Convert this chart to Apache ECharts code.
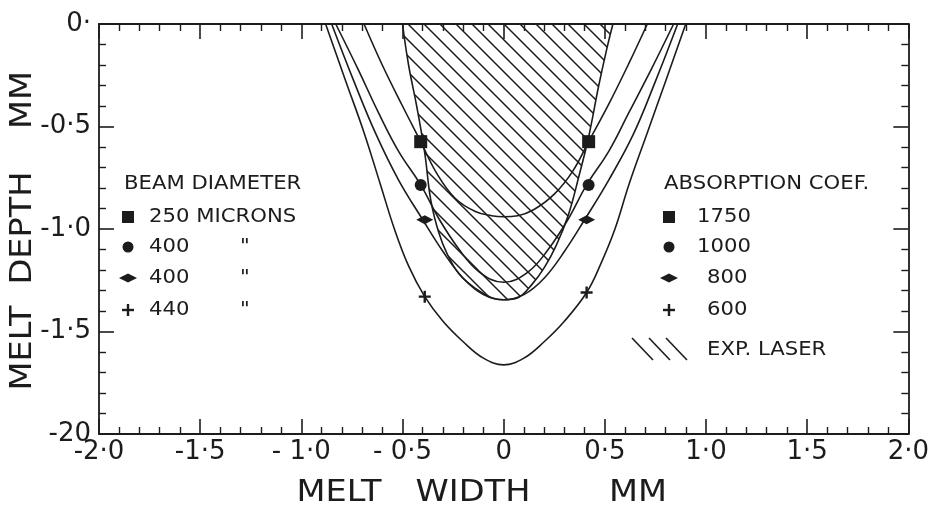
<!DOCTYPE html>
<html>
<head>
<meta charset="utf-8">
<script src="https://cdn.jsdelivr.net/npm/echarts@6/dist/echarts.min.js"></script>
<style>
  html, body { margin: 0; padding: 0; background: #ffffff; }
  #chart { width: 932px; height: 508px; }
</style>
</head>
<body>
<div id="chart"></div>
<script>
// Axis tick labels (melt width / melt depth, mm)
const xTickValues = [-2, -1.5, -1, -0.5, 0, 0.5, 1, 1.5, 2];
const xTickLabels = ['-2·0', '-1·5', '- 1·0', '- 0·5', '0', '0·5', '1·0', '1·5', '2·0'];
const yTickValues = [-2, -1.5, -1, -0.5, 0];
const yTickLabels = ['-20', '-1·5', '-1·0', '-0·5', '0·'];

// Measured melt pool cross-section (EXP. LASER)
const expWidth = [-0.50, -0.47, -0.43, -0.39, -0.36, -0.32, -0.28, -0.22, -0.14, -0.06, 0, 0.07, 0.14, 0.20, 0.26, 0.32, 0.37, 0.42, 0.47, 0.51, 0.54];
const expDepth = [0, -0.20, -0.40, -0.63, -0.86, -1.02, -1.12, -1.22, -1.29, -1.335, -1.345, -1.335, -1.27, -1.19, -1.08, -0.93, -0.75, -0.55, -0.30, -0.12, 0];

// Calculated profiles, absorption coef. 1750 (beam 250 microns)
const sqWidth = [-0.69, -0.60, -0.50, -0.41, -0.33, -0.24, -0.14, -0.06, 0, 0.07, 0.15, 0.25, 0.34, 0.42, 0.52, 0.62, 0.71];
const sqDepth = [0, -0.20, -0.40, -0.574, -0.73, -0.85, -0.915, -0.935, -0.94, -0.935, -0.905, -0.83, -0.72, -0.574, -0.39, -0.19, 0];

// Absorption coef. 1000 (beam 400 microns)
const ciWidth = [-0.83, -0.72, -0.62, -0.52, -0.41, -0.32, -0.22, -0.12, 0, 0.12, 0.22, 0.32, 0.41, 0.52, 0.62, 0.73, 0.84];
const ciDepth = [0, -0.22, -0.43, -0.62, -0.785, -0.95, -1.10, -1.21, -1.26, -1.21, -1.10, -0.95, -0.785, -0.62, -0.43, -0.22, 0];

// Absorption coef. 800 (beam 400 microns)
const diWidth = [-0.85, -0.74, -0.63, -0.52, -0.40, -0.30, -0.20, -0.10, 0, 0.10, 0.20, 0.30, 0.40, 0.52, 0.64, 0.75, 0.86];
const diDepth = [0, -0.28, -0.54, -0.76, -0.955, -1.11, -1.24, -1.32, -1.345, -1.32, -1.24, -1.11, -0.955, -0.76, -0.54, -0.28, 0];

// Absorption coef. 600 (beam 440 microns)
const plWidth = [-0.88, -0.78, -0.69, -0.61, -0.54, -0.47, -0.39, -0.30, -0.20, -0.10, 0, 0.10, 0.20, 0.30, 0.41, 0.48, 0.55, 0.62, 0.71, 0.80, 0.90];
const plDepth = [0, -0.28, -0.53, -0.78, -1.00, -1.18, -1.33, -1.45, -1.55, -1.63, -1.663, -1.63, -1.55, -1.45, -1.31, -1.17, -1.00, -0.78, -0.53, -0.28, 0];

// Marker positions on each calculated profile
const sqMarkX = [-0.41, 0.42];  const sqMarkY = [-0.574, -0.574];
const ciMarkX = [-0.41, 0.42];  const ciMarkY = [-0.785, -0.785];
const diMarkX = [-0.39, 0.41];  const diMarkY = [-0.955, -0.955];
const plMarkX = [-0.39, 0.41];  const plMarkY = [-1.33, -1.31];

// Legend entries
const beamTitle = 'BEAM DIAMETER';
const beamLabels = ['250 MICRONS', '400', '400', '440'];
const absTitle = 'ABSORPTION COEF.';
const absLabels = ['1750', '1000', '800', '600'];
const expLabel = 'EXP. LASER';

const INK = '#1c1c1c';
const FONT = 'DejaVu Sans';

function pairs(xs, ys) { return xs.map((x, i) => [x, ys[i]]); }

function hatchPattern() {
  const s = 16;
  const c = document.createElement('canvas');
  c.width = s; c.height = s;
  const g = c.getContext('2d');
  g.strokeStyle = INK; g.lineWidth = 1.5;
  g.beginPath();
  g.moveTo(-2, -2); g.lineTo(s + 2, s + 2);
  g.moveTo(-2, s - 2); g.lineTo(2, s + 2);
  g.moveTo(s - 2, -2); g.lineTo(s + 2, 2);
  g.stroke();
  return c;
}

const PLUS = 'path://M4,0 L6,0 L6,4 L10,4 L10,6 L6,6 L6,10 L4,10 L4,6 L0,6 L0,4 L4,4 Z';

function profile(xs, ys, extra) {
  return Object.assign({
    type: 'line', data: pairs(xs, ys), smooth: 0.4, showSymbol: false,
    lineStyle: { color: INK, width: 1.6 }, z: 3, silent: true
  }, extra || {});
}
function markers(xs, ys, symbol, size) {
  return {
    type: 'scatter', data: pairs(xs, ys), symbol: symbol, symbolSize: size,
    itemStyle: { color: INK, opacity: 1 }, z: 5, silent: true
  };
}

const axisCommon = {
  type: 'value', interval: 0.5,
  axisLine: { show: true, onZero: false, lineStyle: { color: INK, width: 1.8 } },
  axisTick: { show: true, inside: true, length: 15, lineStyle: { color: INK, width: 1.6 } },
  minorTick: { show: true, splitNumber: 5, length: 7, lineStyle: { color: INK, width: 1.4 } },
  splitLine: { show: false }
};

function xAxis(pos, labels) {
  return Object.assign({}, axisCommon, {
    position: pos, min: -2, max: 2,
    axisLabel: {
      show: labels, margin: 5, color: INK, fontFamily: FONT, fontSize: 26,
      formatter: v => { const i = xTickValues.findIndex(t => Math.abs(t - v) < 1e-6); return i >= 0 ? xTickLabels[i] : ''; }
    }
  });
}
function yAxis(pos, labels) {
  return Object.assign({}, axisCommon, {
    position: pos, min: -2, max: 0,
    axisLabel: {
      show: labels, margin: 8, color: INK, fontFamily: FONT, fontSize: 26,
      formatter: v => { const i = yTickValues.findIndex(t => Math.abs(t - v) < 1e-6); return i >= 0 ? yTickLabels[i] : ''; }
    }
  });
}

// Legend drawing helpers (pixel layout of the two key blocks)
function legendText(x, y, text) {
  return { type: 'text', x: x, y: y, scaleX: 1.06,
    style: { text: text, fill: INK, font: '20px "' + FONT + '"', textVerticalAlign: 'middle' } };
}
function legendSymbol(kind, cx, cy) {
  const st = { fill: INK };
  if (kind === 'square') return { type: 'rect', shape: { x: cx - 6, y: cy - 6, width: 12, height: 12 }, style: st };
  if (kind === 'circle') return { type: 'circle', shape: { cx: cx, cy: cy, r: 5.5 }, style: st };
  if (kind === 'diamond') return { type: 'polygon', shape: { points: [[cx - 9, cy], [cx, cy - 4.5], [cx + 9, cy], [cx, cy + 4.5]] }, style: st };
  return { type: 'group', children: [
    { type: 'rect', shape: { x: cx - 6, y: cy - 1.2, width: 12, height: 2.4 }, style: st },
    { type: 'rect', shape: { x: cx - 1.2, y: cy - 6, width: 2.4, height: 12 }, style: st }
  ] };
}

const kinds = ['square', 'circle', 'diamond', 'plus'];
const rowsY = [217, 247, 278, 310];
const graphics = [];
graphics.push(legendText(124, 184, beamTitle));
kinds.forEach((k, i) => {
  graphics.push(legendSymbol(k, 128, rowsY[i]));
  graphics.push(legendText(149, rowsY[i], beamLabels[i]));
  if (i > 0) graphics.push(legendText(240, rowsY[i], '"'));
});
graphics.push(legendText(664, 184, absTitle));
kinds.forEach((k, i) => {
  graphics.push(legendSymbol(k, 669, rowsY[i]));
  graphics.push(legendText(i < 2 ? 697 : 707, rowsY[i], absLabels[i]));
});
[632, 649, 666].forEach(x => graphics.push({
  type: 'line', shape: { x1: x, y1: 338, x2: x + 21, y2: 360 }, style: { stroke: INK, lineWidth: 1.6 }
}));
graphics.push(legendText(707, 350, expLabel));

// Axis titles, one word at a time
function titleWord(text, x, y, rot) {
  return { type: 'text', x: x, y: y, rotation: rot || 0, scaleX: 1.12,
    style: { text: text, fill: INK, font: '30px "' + FONT + '"', textAlign: 'center', textVerticalAlign: 'middle' } };
}
graphics.push(titleWord('MELT', 339, 493));
graphics.push(titleWord('WIDTH', 473, 493));
graphics.push(titleWord('MM', 638, 493));
graphics.push(titleWord('MELT', 23, 348, Math.PI / 2));
graphics.push(titleWord('DEPTH', 23, 228, Math.PI / 2));
graphics.push(titleWord('MM', 23, 100, Math.PI / 2));

const chart = echarts.init(document.getElementById('chart'), null, { renderer: 'canvas' });
chart.setOption({
  animation: false,
  backgroundColor: '#ffffff',
  grid: { left: 99, right: 19, top: 24, bottom: 74, containLabel: false },
  xAxis: [xAxis('bottom', true), xAxis('top', false)],
  yAxis: [yAxis('left', true), yAxis('right', false)],
  series: [
    profile(expWidth, expDepth, {
      areaStyle: { origin: 'end', opacity: 1, color: { image: hatchPattern(), repeat: 'repeat' } }, z: 2
    }),
    profile(sqWidth, sqDepth),
    profile(ciWidth, ciDepth),
    profile(diWidth, diDepth),
    profile(plWidth, plDepth),
    markers(sqMarkX, sqMarkY, 'rect', 13),
    markers(ciMarkX, ciMarkY, 'circle', 12),
    markers(diMarkX, diMarkY, 'diamond', [17, 9]),
    markers(plMarkX, plMarkY, PLUS, 12)
  ],
  graphic: graphics
});
</script>
</body>
</html>
